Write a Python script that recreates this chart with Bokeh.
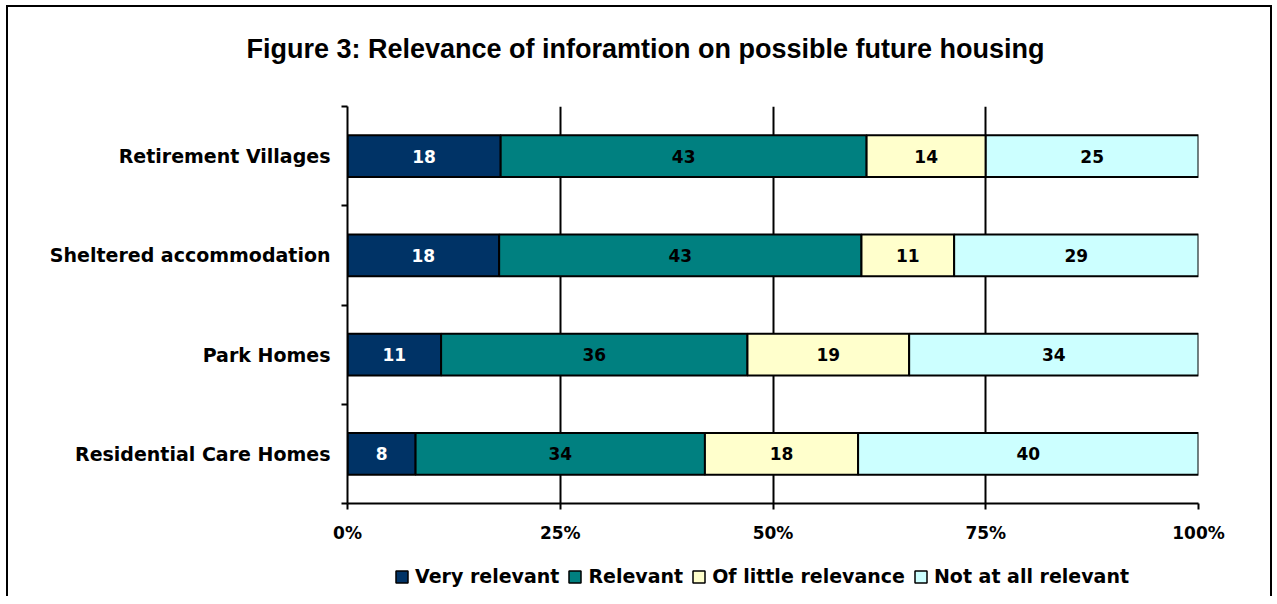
from bokeh.plotting import figure
from bokeh.layouts import column
from bokeh.models import (ColumnDataSource, Range1d, FixedTicker, Legend, LegendItem,
                          Grid, NumeralTickFormatter)
from bokeh.core.properties import value
from bokeh.embed import file_html
from bokeh.resources import INLINE

# ---- data ----
title_text = "Figure 3:  Relevance of inforamtion on possible future housing"
categories = ["Retirement Villages", "Sheltered accommodation", "Park Homes", "Residential Care Homes"]
series = ["Very relevant", "Relevant", "Of little relevance", "Not at all relevant"]
very_relevant = [18, 18, 11, 8]
relevant = [43, 43, 36, 34]
little_relevance = [14, 11, 19, 18]
not_relevant = [25, 29, 34, 40]
colors = ["#003366", "#008080", "#FFFFCC", "#CCFFFF"]
label_colors = ["white", "black", "black", "black"]
x_ticks = [0, 0.25, 0.5, 0.75, 1.0]

FONT = "DejaVu Sans"
TFONT = "Liberation Sans"
values = [very_relevant, relevant, little_relevance, not_relevant]
n = len(categories)
ypos = [n - i - 0.5 for i in range(n)]
totals = [sum(v[i] for v in values) for i in range(n)]

data = {"y": ypos}
for s, v in zip(series, values):
    data[s] = [v[i] / totals[i] for i in range(n)]
src = ColumnDataSource(data)

FW, LB, RB = 851, 339, 72

# ---- title strip ----
t = figure(frame_width=FW, frame_height=1, output_backend="svg", toolbar_location=None,
           x_axis_type=None, y_axis_type=None, min_border_left=LB, min_border_right=RB,
           min_border_top=61, min_border_bottom=0, title=title_text)
t.outline_line_color = None
t.border_fill_color = "white"
t.title.text_font = TFONT
t.title.text_font_size = "27px"
t.title.text_font_style = "bold"
t.title.align = "left"
t.title.offset = -101
t.title.text_color = "black"

# ---- main chart ----
p = figure(frame_width=FW, frame_height=397, output_backend="svg", toolbar_location=None,
           x_range=Range1d(0, 1), y_range=Range1d(0, n),
           min_border_left=LB, min_border_right=RB, min_border_top=37, min_border_bottom=55)
p.outline_line_color = None
p.background_fill_color = "white"
p.border_fill_color = "white"

p.xgrid.ticker = FixedTicker(ticks=[0.25, 0.5, 0.75])
p.xgrid.grid_line_color = "black"
p.xgrid.grid_line_width = 2
p.ygrid.grid_line_color = None
p.add_layout(Grid(dimension=0, ticker=FixedTicker(ticks=[1.0]), grid_line_color="#d8d8d8",
                  grid_line_width=1))

rs = p.hbar_stack(series, y="y", height=0.42, color=colors, line_color="black",
                  line_width=2, source=src)

# segment labels
lx, ly, lt, lc = [], [], [], []
for i in range(n):
    cum = 0.0
    for k, v in enumerate(values):
        frac = v[i] / totals[i]
        lx.append(cum + frac / 2)
        ly.append(ypos[i])
        lt.append(str(v[i]))
        lc.append(label_colors[k])
        cum += frac
lsrc = ColumnDataSource(dict(x=lx, y=ly, t=lt, c=lc))
p.text(x="x", y="y", text="t", text_color="c", source=lsrc, text_align="center",
       text_baseline="middle", text_font=value(FONT), text_font_size="17px",
       text_font_style="bold")

# x axis
p.xaxis.ticker = FixedTicker(ticks=x_ticks)
p.xaxis.formatter = NumeralTickFormatter(format="0%")
p.xaxis.axis_line_color = "black"
p.xaxis.axis_line_width = 2
p.xaxis.major_tick_line_color = "black"
p.xaxis.major_tick_line_width = 2
p.xaxis.major_tick_out = 6
p.xaxis.major_tick_in = 0
p.xaxis.minor_tick_line_color = None
p.xaxis.major_label_text_font = FONT
p.xaxis.major_label_text_font_size = "17px"
p.xaxis.major_label_text_font_style = "bold"
p.xaxis.major_label_text_color = "black"
p.xaxis.major_label_standoff = 13

# y axis
p.yaxis.ticker = FixedTicker(ticks=ypos, minor_ticks=list(range(n + 1)))
p.yaxis.major_label_overrides = {ypos[i]: categories[i] for i in range(n)}
p.yaxis.axis_line_color = "black"
p.yaxis.axis_line_width = 2
p.yaxis.major_tick_line_color = None
p.yaxis.minor_tick_line_color = "black"
p.yaxis.minor_tick_line_width = 2
p.yaxis.minor_tick_out = 6
p.yaxis.minor_tick_in = 0
p.yaxis.major_label_text_font = FONT
p.yaxis.major_label_text_font_size = "19px"
p.yaxis.major_label_text_font_style = "bold"
p.yaxis.major_label_text_color = "black"
p.yaxis.major_label_standoff = 11

# ---- legend strip ----
leg = figure(frame_width=FW, frame_height=38, output_backend="svg", toolbar_location=None,
             x_range=Range1d(0, 1), y_range=Range1d(0, n), x_axis_type=None, y_axis_type=None,
             min_border_left=LB, min_border_right=RB, min_border_top=0, min_border_bottom=0)
leg.outline_line_color = None
leg.border_fill_color = "white"
leg_rs = leg.hbar_stack(series, y="y", height=0.42, color=colors, line_color="black",
                        line_width=1.5, source=src)
for r in leg_rs:
    r.visible = False
legend = Legend(items=[LegendItem(label=s, renderers=[r]) for s, r in zip(series, leg_rs)],
                orientation="horizontal", location=(47, 9),
                label_text_font=FONT, label_text_font_size="19px", label_text_font_style="bold",
                label_text_color="black",
                glyph_width=15, glyph_height=15, label_standoff=6, spacing=8,
                border_line_color=None, background_fill_alpha=0, padding=0, margin=0)
leg.add_layout(legend, "center")

layout = column(t, p, leg, spacing=0)
layout.styles = {"border-top": "2px solid black", "border-left": "2px solid black",
                 "border-right": "2px solid black", "margin-left": "6px", "margin-top": "5px"}
open("out.html", "w").write(file_html(layout, INLINE))
